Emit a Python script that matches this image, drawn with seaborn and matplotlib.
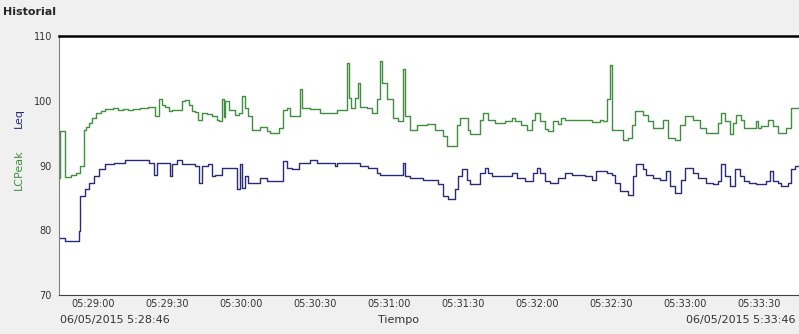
import pandas as pd
import matplotlib.pyplot as plt
import matplotlib.dates as mdates
import seaborn as sns

START = pd.Timestamp("2015-05-06 05:28:46")

# seconds since start / level in dB
peak_t = [0, 0.5, 2.6, 5, 7, 8.7, 10, 11, 12, 13.5, 14.8, 17, 18.8, 22, 24, 26, 28, 30, 33, 36,
          39, 40.4, 41.8, 43, 44.5, 46, 49.9, 51, 52.6, 54, 55.3, 56.5, 58, 60, 62, 64, 65, 66,
          66.7, 67.3, 68.8, 71.5, 73, 74.2, 75.5, 76.8, 78.2, 81.6, 84.3, 85.6, 89, 91, 92.4,
          93.7, 97.8, 98.5, 101.8, 105.9, 112.6, 116.7, 117.5, 118.5, 120, 121.4, 122, 124.8,
          126.8, 128.8, 130.2, 130.9, 132.9, 135.5, 137.6, 139.6, 140.3, 142.3, 145, 149,
          152.4, 155.8, 157.2, 161.2, 162.6, 165.9, 166.6, 170.6, 172, 174, 176.7, 180.8,
          183.5, 184.8, 187.5, 189.6, 191.6, 192.9, 194.9, 197, 198.3, 200.3, 202.4, 203.7,
          205.1, 211.8, 215.9, 219.2, 220.6, 222, 223.3, 224, 224.6, 228.7, 230.7, 232.1,
          233.4, 236.8, 238.8, 240.8, 244.9, 246.9, 249.6, 251.6, 253.6, 257, 259.7, 262.4,
          267.1, 268.5, 269.8, 271.9, 273.2, 274.6, 276.6, 277.9, 282.7, 283.5, 284.7, 287.4,
          289.4, 291.4, 294.8, 296.8, 300]
peak_v = [88.0, 95.3, 88.2, 88.5, 88.8, 89.9, 95.5, 96.0, 96.6, 97.3, 98.1, 98.4, 98.7, 98.9,
          98.5, 98.8, 98.6, 98.7, 98.9, 99.1, 97.6, 100.2, 99.4, 99.1, 98.4, 98.6, 99.9, 100.1,
          99.4, 98.4, 98.3, 97.1, 98.1, 97.9, 97.6, 97.1, 96.8, 100.3, 97.5, 100.0, 98.6, 97.8,
          98.1, 100.7, 98.9, 97.6, 95.5, 96.0, 95.4, 95.0, 95.8, 98.6, 98.9, 97.6, 101.8, 98.9,
          98.7, 98.1, 98.6, 105.9, 100.4, 98.9, 100.4, 102.8, 99.1, 98.9, 98.1, 100.2, 106.2,
          102.7, 100.2, 97.3, 96.9, 104.9, 97.6, 95.5, 96.2, 96.4, 95.5, 94.5, 93.0, 96.3,
          97.4, 95.5, 94.8, 97.0, 98.1, 97.1, 96.6, 96.8, 97.4, 96.8, 96.3, 95.5, 97.0, 98.1,
          96.9, 95.7, 95.3, 96.9, 96.4, 97.4, 97.1, 97.0, 96.7, 97.1, 96.9, 100.2, 105.5, 95.5,
          95.5, 94.0, 94.3, 96.3, 98.4, 97.8, 96.8, 95.8, 97.1, 94.3, 94.0, 96.3, 97.6, 97.1,
          95.8, 95.0, 96.6, 98.1, 96.8, 94.8, 96.6, 97.8, 97.1, 95.8, 96.8, 95.8, 96.1, 97.1,
          96.1, 95.0, 95.8, 98.9, 98.9]

leq_t = [0, 2.6, 8.0, 8.7, 10.7, 12, 14.1, 16.1, 18.8, 22.2, 26.9, 36.4, 38.4, 39.8, 45.1,
         45.8, 47.9, 49.9, 55.3, 56.6, 58, 60.6, 62, 63.4, 66, 72.1, 73.5, 74.2, 75.5, 76.8,
         81.6, 84.3, 91, 92.4, 94.4, 97.1, 101.8, 104.5, 111.9, 112.6, 122, 125.4, 128.8,
         130.2, 139.6, 140.3, 142.3, 147.7, 153.8, 155.8, 157.8, 160.5, 161.9, 163.2, 165.3,
         166.6, 170.6, 172.7, 174, 175.4, 183.5, 185.5, 188.9, 192.2, 193.6, 194.9, 197, 199,
         202.4, 205.1, 207.8, 213.2, 215.9, 217.9, 222, 224, 225.3, 227.3, 230.7, 232.7, 234.1,
         236.8, 238.1, 240.8, 243.5, 246.2, 247.6, 249.6, 252.3, 253.6, 257, 259, 262.4, 265.1,
         267.1, 268.5, 269.8, 271.9, 273.9, 275.9, 277.9, 279.9, 282.7, 286.7, 288.1, 289.4,
         291.4, 292.8, 295.5, 296.8, 298.2, 300]
leq_v = [78.8, 78.4, 79.9, 85.3, 86.3, 87.3, 88.4, 89.4, 90.2, 90.4, 90.9, 90.4, 88.6, 90.4,
         88.4, 90.2, 90.9, 90.2, 90.0, 87.3, 90.0, 90.2, 88.4, 88.6, 89.6, 86.3, 90.2, 86.6,
         88.4, 87.3, 88.1, 87.6, 90.7, 89.6, 89.4, 90.4, 90.8, 90.4, 89.9, 90.4, 89.9, 89.6,
         88.9, 88.6, 90.4, 88.4, 88.1, 87.8, 87.1, 85.3, 84.8, 86.3, 88.4, 89.4, 87.8, 87.1,
         88.9, 89.6, 88.9, 88.4, 88.8, 88.1, 87.6, 88.9, 89.6, 88.9, 87.6, 87.3, 88.1, 88.9,
         88.6, 88.4, 87.8, 89.1, 88.9, 88.6, 87.3, 86.0, 85.5, 88.4, 90.2, 89.4, 88.6, 88.1,
         87.8, 89.1, 86.8, 85.8, 87.8, 89.6, 88.9, 88.1, 87.3, 87.1, 87.6, 90.2, 88.4, 86.8,
         89.4, 88.4, 87.6, 87.3, 87.1, 87.6, 89.1, 87.6, 87.3, 86.8, 87.3, 89.4, 89.9, 89.9]

peak = pd.DataFrame({"time": START + pd.to_timedelta(peak_t, unit="s"), "db": peak_v})
leq = pd.DataFrame({"time": START + pd.to_timedelta(leq_t, unit="s"), "db": leq_v})

sns.set_style("white")
plt.rcParams["font.family"] = ["DejaVu Sans"]

fig = plt.figure(figsize=(7.99, 3.34), dpi=100, facecolor="#f0f0f0")
ax = fig.add_axes([59 / 799, 1 - 295 / 334, 1 - 59 / 799, (295 - 36) / 334])
ax.set_facecolor("white")

sns.lineplot(data=peak, x="time", y="db", ax=ax, color="#3f8f3f", lw=1, drawstyle="steps-post")
sns.lineplot(data=leq, x="time", y="db", ax=ax, color="#2a2a7a", lw=1, drawstyle="steps-post")

ax.set_xlim(START, START + pd.Timedelta(seconds=300))
ax.set_ylim(70, 110)
ax.set_yticks([70, 80, 90, 100, 110])
ax.xaxis.set_major_locator(mdates.SecondLocator(bysecond=[0, 30]))
ax.xaxis.set_major_formatter(mdates.DateFormatter("%H:%M:%S"))
ax.tick_params(axis="y", direction="out", length=4, labelsize=7, colors="#333333", pad=1)
ax.tick_params(axis="x", direction="inout", length=6, labelsize=7, colors="#333333", pad=0)
ax.set_xlabel("")
ax.set_ylabel("")

for side in ["left", "bottom", "top", "right"]:
    ax.spines[side].set_visible(True)
ax.spines["left"].set_color("#808080")
ax.spines["bottom"].set_color("#404040")
ax.spines["top"].set_color("black")
ax.spines["top"].set_linewidth(1.8)
ax.spines["right"].set_visible(False)

fig.text(3 / 799, 1 - 12 / 334, "Historial", fontsize=8, fontweight="bold", va="center")
fig.text(19 / 799, 1 - 170 / 334, "LCPeak", color="#3f8f3f", rotation=90, fontsize=8,
         ha="center", va="center")
fig.text(19 / 799, 1 - 118 / 334, "Leq", color="#2a2a7a", rotation=90, fontsize=8,
         ha="center", va="center")
fig.text(60 / 799, 1 - 320 / 334, "06/05/2015 5:28:46", fontsize=8, color="#333333", va="center")
fig.text(398 / 799, 1 - 320 / 334, "Tiempo", fontsize=8, color="#333333", ha="center", va="center")
fig.text(795 / 799, 1 - 320 / 334, "06/05/2015 5:33:46", fontsize=8, color="#333333",
         ha="right", va="center")

fig.savefig("out.png", dpi=100, facecolor=fig.get_facecolor())
